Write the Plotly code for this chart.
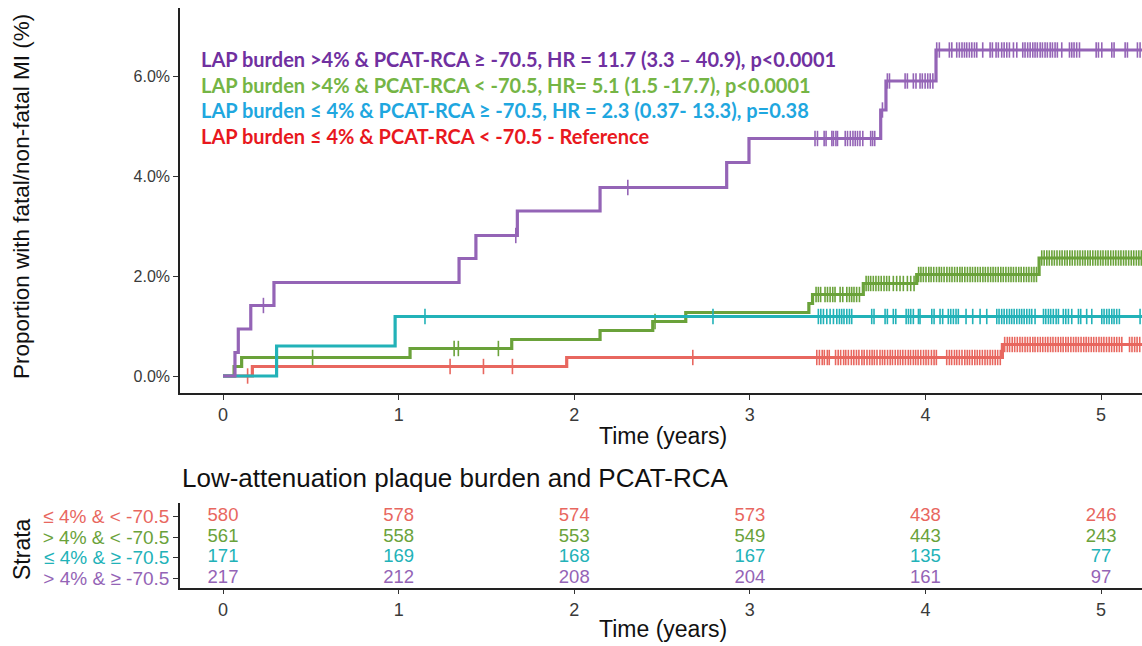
import numpy as np
import plotly.graph_objects as go

# ---------------- data ----------------
groups = ["≤ 4% & < -70.5", "> 4% & < -70.5", "≤ 4% & ≥ -70.5", "> 4% & ≥ -70.5"]
curve_colors = ["#E8675F", "#6AA23A", "#22B2B8", "#9464B6"]

# step curves: event times (years) and cumulative incidence (%)
red_t = [0.0, 0.167, 1.957, 4.438, 5.30]
red_y = [0.0, 0.19, 0.37, 0.63, 0.63]
green_t = [0.0, 0.063, 0.106, 1.065, 1.644, 2.147, 2.447, 2.635, 3.336, 3.357, 3.646, 3.950, 4.647, 5.30]
green_y = [0.0, 0.19, 0.37, 0.55, 0.73, 0.91, 1.09, 1.27, 1.45, 1.63, 1.85, 2.03, 2.36, 2.36]
cyan_t = [0.0, 0.305, 0.980, 5.30]
cyan_y = [0.0, 0.60, 1.19, 1.19]
purple_t = [0.0, 0.068, 0.087, 0.158, 0.290, 1.344, 1.440, 1.676, 2.147, 2.868, 2.995, 3.745, 3.775, 4.060, 5.30]
purple_y = [0.0, 0.47, 0.94, 1.41, 1.87, 2.35, 2.81, 3.30, 3.77, 4.27, 4.75, 5.32, 5.90, 6.52, 6.52]

# censoring times (years)
red_cens = [0.14, 1.293, 1.483, 1.648, 2.675,
            3.381, 3.396, 3.412, 3.424, 3.441, 3.452, 3.488, 3.503, 3.517, 3.534, 3.546, 3.561,
            3.578, 3.592, 3.607, 3.621, 3.638, 3.651, 3.667, 3.682, 3.696, 3.709, 3.724, 3.741,
            3.755, 3.768, 3.784, 3.799, 3.812, 3.828, 3.843, 3.857, 3.871, 3.886, 3.902, 3.915,
            3.931, 3.944, 3.958, 3.973, 3.989, 4.003, 4.017, 4.034, 4.049, 4.062, 4.121, 4.136,
            4.149, 4.165, 4.178, 4.193, 4.208, 4.224, 4.238, 4.251, 4.266, 4.281, 4.295, 4.309,
            4.324, 4.339, 4.353, 4.368, 4.382, 4.397, 4.411, 4.426,
            4.451, 4.466, 4.479, 4.494, 4.508, 4.523, 4.538, 4.552, 4.567, 4.581, 4.596, 4.611,
            4.624, 4.639, 4.654, 4.668, 4.683, 4.697, 4.712, 4.726, 4.741, 4.756, 4.770, 4.784,
            4.799, 4.813, 4.828, 4.843, 4.857, 4.871, 4.886, 4.901, 4.915, 4.929, 4.944, 4.958,
            4.973, 4.988, 5.002, 5.016, 5.031, 5.046, 5.060, 5.075, 5.089, 5.104, 5.118,
            5.162, 5.176, 5.191, 5.205, 5.220]
green_cens = [0.51, 1.316, 1.340, 1.568, 2.460,
              3.377, 3.390, 3.403, 3.428, 3.442, 3.457, 3.472, 3.485, 3.514, 3.529, 3.552,
              3.567, 3.580, 3.593, 3.608, 3.624,
              3.662, 3.675, 3.688, 3.703, 3.718, 3.733, 3.748, 3.764, 3.779, 3.794, 3.817,
              3.836, 3.855, 3.874, 3.897, 3.916, 3.935,
              3.961, 3.974, 3.988, 4.003, 4.019, 4.032, 4.047, 4.063, 4.078, 4.091, 4.106,
              4.122, 4.137, 4.151, 4.166, 4.181, 4.196, 4.209, 4.224, 4.239, 4.254, 4.268,
              4.283, 4.297, 4.312, 4.327, 4.341, 4.356, 4.371, 4.385, 4.399, 4.414, 4.429,
              4.443, 4.458, 4.473, 4.487, 4.501, 4.516, 4.531, 4.545, 4.560, 4.575, 4.589,
              4.604, 4.618, 4.632,
              4.662, 4.676, 4.691, 4.705, 4.720, 4.734, 4.749, 4.764, 4.778, 4.793, 4.807,
              4.822, 4.836, 4.851, 4.866, 4.880, 4.895, 4.909, 4.924, 4.938, 4.953, 4.968,
              4.982, 4.997, 5.011, 5.026, 5.040, 5.055, 5.070, 5.084, 5.099, 5.113, 5.128,
              5.142, 5.157, 5.172, 5.186, 5.201, 5.215, 5.229]
cyan_cens = [1.15, 2.79,
             3.390, 3.404, 3.419, 3.438, 3.457, 3.476, 3.495, 3.510, 3.523, 3.536, 3.552, 3.567,
             3.580, 3.694, 3.707, 3.770, 3.783, 3.817, 3.831, 3.890, 3.903, 3.916, 3.931, 3.960,
             3.969, 4.036, 4.049, 4.083, 4.098, 4.130, 4.144, 4.159, 4.174, 4.187, 4.231, 4.269,
             4.311, 4.349, 4.406, 4.419, 4.434, 4.448, 4.463, 4.478, 4.491, 4.505, 4.520, 4.535,
             4.548, 4.562, 4.577, 4.592, 4.605, 4.624, 4.672, 4.685, 4.700, 4.713, 4.728, 4.744,
             4.757, 4.785, 4.799, 4.814, 4.833, 4.871, 4.884, 4.918, 4.947, 5.004, 5.017, 5.032,
             5.046, 5.061, 5.074, 5.089, 5.104, 5.222]
purple_cens = [0.23, 1.667, 2.305,
               3.371, 3.385, 3.423, 3.434, 3.467, 3.476, 3.490, 3.499, 3.543, 3.556, 3.572,
               3.587, 3.600, 3.613, 3.627, 3.643, 3.688, 3.699, 3.711, 3.755,
               3.783, 3.795, 3.884, 3.897, 3.931, 3.946, 3.969, 3.982, 3.998, 4.013, 4.027, 4.042,
               4.064, 4.079, 4.136, 4.150, 4.178, 4.193, 4.208, 4.222, 4.235, 4.250, 4.264, 4.279,
               4.292, 4.326, 4.368, 4.381, 4.402, 4.415, 4.434, 4.448, 4.463, 4.478, 4.501, 4.520,
               4.554, 4.567, 4.582, 4.596, 4.611, 4.624, 4.637, 4.653, 4.666, 4.681, 4.694, 4.710,
               4.723, 4.738, 4.751, 4.776, 4.820, 4.833, 4.846, 4.861, 4.877, 4.972, 4.985, 5.004,
               5.061, 5.074, 5.137, 5.150, 5.207, 5.222]

# number at risk
risk_times = [0, 1, 2, 3, 4, 5]
risk_red = [580, 578, 574, 573, 438, 246]
risk_green = [561, 558, 553, 549, 443, 243]
risk_cyan = [171, 169, 168, 167, 135, 77]
risk_purple = [217, 212, 208, 204, 161, 97]

legend_texts = [
    "LAP burden >4% & PCAT-RCA ≥ -70.5, HR = 11.7 (3.3 – 40.9), p<0.0001",
    "LAP burden >4% & PCAT-RCA < -70.5, HR= 5.1 (1.5 -17.7), p<0.0001",
    "LAP burden ≤ 4% & PCAT-RCA ≥ -70.5, HR = 2.3 (0.37- 13.3), p=0.38",
    "LAP burden ≤ 4% & PCAT-RCA < -70.5 - Reference",
]
legend_colors = ["#7030A0", "#75B545", "#1FA7DF", "#E8181E"]

y_ticks = [0, 2, 4, 6]
x_ticks = [0, 1, 2, 3, 4, 5]

# ---------------- figure ----------------
W, H = 1142, 646
fig = go.Figure()

def level_at(ts, ys, c):
    idx = np.searchsorted(np.array(ts), np.array(c), side="right") - 1
    return [ys[i] for i in idx]

series = [
    (red_t, red_y, red_cens, curve_colors[0]),
    (green_t, green_y, green_cens, curve_colors[1]),
    (cyan_t, cyan_y, cyan_cens, curve_colors[2]),
    (purple_t, purple_y, purple_cens, curve_colors[3]),
]
for ts, ys, cens, col in series:
    fig.add_trace(go.Scatter(x=ts, y=ys, mode="lines", line=dict(color=col, width=3.2, shape="hv"),
                             showlegend=False, xaxis="x", yaxis="y", hoverinfo="skip"))
    fig.add_trace(go.Scatter(x=cens, y=level_at(ts, ys, cens), mode="markers",
                             marker=dict(symbol="line-ns", size=11, line=dict(color=col, width=1.6)),
                             showlegend=False, xaxis="x", yaxis="y", hoverinfo="skip"))

# risk table (row 3 = top)
risk_rows = [risk_red, risk_green, risk_cyan, risk_purple]
for i, (vals, col) in enumerate(zip(risk_rows, curve_colors)):
    fig.add_trace(go.Scatter(x=risk_times, y=[3 - i] * len(vals), mode="text",
                             text=[str(v) for v in vals],
                             textfont=dict(family="Liberation Sans, Arial", size=18.5, color=col),
                             showlegend=False, xaxis="x2", yaxis="y2", hoverinfo="skip"))

def px_x(p):
    return p / W

def px_y(p):
    return 1 - p / H

xrange = [-0.245, 5.233]
tickfont = dict(family="Liberation Sans, Arial", size=16, color="#3a3a3a")
xtickfont = dict(family="Liberation Sans, Arial", size=18, color="#3a3a3a")

fig.update_layout(
    width=W, height=H,
    margin=dict(l=0, r=0, t=0, b=0),
    paper_bgcolor="white", plot_bgcolor="white",
    xaxis=dict(domain=[px_x(180), 1], range=xrange, tickvals=x_ticks, showgrid=False, zeroline=False,
               showline=True, linecolor="#222", linewidth=1.5, ticks="outside", ticklen=5,
               tickcolor="#333", tickfont=xtickfont, anchor="y"),
    yaxis=dict(domain=[px_y(393), px_y(8)], range=[-0.34, 7.36], tickvals=y_ticks,
               ticktext=[f"{v:.1f}%" for v in y_ticks], showgrid=False, zeroline=False,
               showline=True, linecolor="#222", linewidth=1.5, ticks="outside", ticklen=5,
               tickcolor="#333", tickfont=tickfont, anchor="x"),
    xaxis2=dict(domain=[px_x(180), 1], range=xrange, tickvals=x_ticks, showgrid=False, zeroline=False,
                showline=True, linecolor="#222", linewidth=1.5, ticks="outside", ticklen=4,
                tickcolor="#333", tickfont=xtickfont, anchor="y2"),
    yaxis2=dict(domain=[px_y(588.3), px_y(503)], range=[-0.5, 3.66], tickvals=[3, 2, 1, 0],
                ticktext=[f"<span style='color:{c}'>{g}</span>" for g, c in zip(groups, curve_colors)],
                showgrid=False, zeroline=False, showline=True, linecolor="#222", linewidth=1.5,
                ticks="outside", ticklen=5, tickcolor="#333",
                tickfont=dict(family="Liberation Sans, Arial", size=19, color="#333"), anchor="x2"),
)

ann = []
# legend-like annotations
for k, (t, c) in enumerate(zip(legend_texts, legend_colors)):
    ann.append(dict(x=px_x(199), y=px_y(59 + 25.7 * k), xref="paper", yref="paper", text=t,
                    showarrow=False, xanchor="left", yanchor="middle",
                    font=dict(family="Lato", size=20, color=c, weight="bold")))
# axis titles
title_font = dict(family="Liberation Sans, Arial", size=23, color="#111")
ann.append(dict(x=px_x(663), y=px_y(436), xref="paper", yref="paper", text="Time (years)",
                showarrow=False, xanchor="center", yanchor="middle", font=title_font))
ann.append(dict(x=px_x(663), y=px_y(629), xref="paper", yref="paper", text="Time (years)",
                showarrow=False, xanchor="center", yanchor="middle", font=title_font))
ann.append(dict(x=px_x(22), y=px_y(197), xref="paper", yref="paper",
                text="Proportion with fatal/non-fatal MI (%)", textangle=-90,
                showarrow=False, xanchor="center", yanchor="middle",
                font=dict(family="Liberation Sans, Arial", size=22.5, color="#111")))
ann.append(dict(x=px_x(22), y=px_y(549), xref="paper", yref="paper", text="Strata", textangle=-90,
                showarrow=False, xanchor="center", yanchor="middle", font=title_font))
ann.append(dict(x=px_x(180), y=px_y(478), xref="paper", yref="paper",
                text="Low-attenuation plaque burden and PCAT-RCA",
                showarrow=False, xanchor="left", yanchor="middle",
                font=dict(family="Liberation Sans, Arial", size=26, color="#111")))
fig.update_layout(annotations=ann)

fig.write_html("out.html", config={"displayModeBar": False},
               post_script="document.body.style.margin='0';document.body.style.overflow='hidden';")
